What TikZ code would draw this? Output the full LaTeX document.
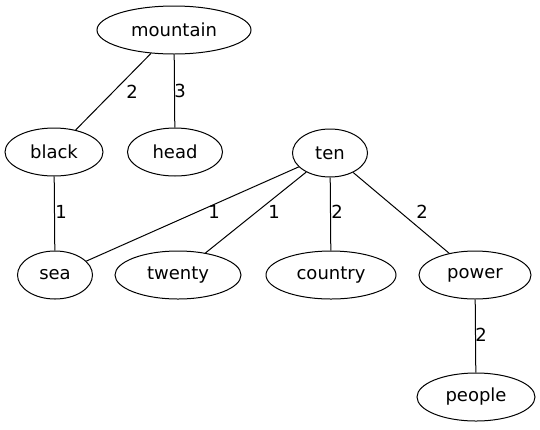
\documentclass[tikz,border=0pt]{standalone}
\usepackage{fontspec}
\setmainfont{DejaVu Sans}
\usetikzlibrary{shapes.geometric}
\begin{document}
\begin{tikzpicture}[x=1pt, y=-1pt, font=\fontsize{18}{21}\selectfont,
    word/.style={ellipse, draw, line width=1pt, inner sep=0pt, minimum height=48pt},
    weight/.style={inner sep=0pt}]
        \useasboundingbox (0,0) rectangle (540,429);
        \node[word, minimum width=154pt] (mountain) at (174,30) {mountain};
        \node[word, minimum width=98pt] (black) at (54,152) {black};
        \node[word, minimum width=95pt] (head) at (175,152) {head};
        \node[word, minimum width=75pt] (ten) at (330,153) {ten};
        \node[word, minimum width=75pt] (sea) at (55,275) {sea};
        \node[word, minimum width=126pt] (twenty) at (178,275) {twenty};
        \node[word, minimum width=130pt] (country) at (331,275) {country};
        \node[word, minimum width=112pt] (power) at (475,275) {power};
        \node[word, minimum width=118pt] (people) at (476,397) {people};
        \foreach \a/\b in {mountain/black, mountain/head, black/sea, ten/sea,
                           ten/twenty, ten/country, ten/power, power/people}
          \draw[line width=1pt] (\a) -- (\b);
        \node[weight] (w1) at (132,92) {2};
        \node[weight] (w2) at (180,91) {3};
        \node[weight] (w3) at (61,212) {1};
        \node[weight] (w4) at (214,212) {1};
        \node[weight] (w5) at (274,212) {1};
        \node[weight] (w6) at (337,212) {2};
        \node[weight] (w7) at (422,212) {2};
        \node[weight] (w8) at (481,335) {2};
      \end{tikzpicture}
\end{document}
